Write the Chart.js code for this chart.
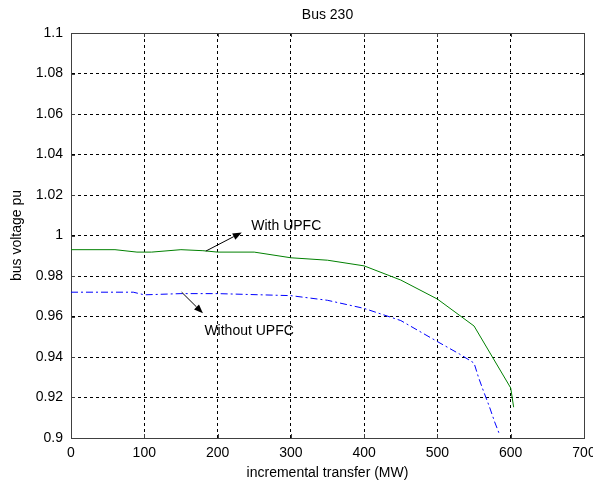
<!DOCTYPE html>
<html>
<head>
<meta charset="utf-8">
<script src="https://cdn.jsdelivr.net/npm/chart.js@4/dist/chart.umd.min.js"></script>
<style>
    body { margin: 0; background: #fff; }
    #wrap { width: 593px; height: 482px; }
</style>
</head>
<body>
<div id="wrap"><canvas id="busChart" width="593" height="482"></canvas></div>
<script>
// incremental transfer (MW) vs bus voltage (pu)
const transferWith = [0, 60, 90, 110, 150, 180, 200, 250, 300, 350, 400, 450, 500, 550, 600, 604];
const voltageWith = [0.993, 0.993, 0.9918, 0.9918, 0.993, 0.9925, 0.9918, 0.9918, 0.989, 0.9878, 0.985, 0.978, 0.9686, 0.9553, 0.9247, 0.9152];

const transferWithout = [0, 85, 100, 150, 200, 300, 350, 400, 450, 500, 530, 550, 556, 563, 571, 578, 585];
const voltageWithout = [0.972, 0.972, 0.9707, 0.9713, 0.9713, 0.9703, 0.968, 0.964, 0.958, 0.9476, 0.9415, 0.937, 0.930, 0.923, 0.9154, 0.908, 0.9015];

const xTicks = [0, 100, 200, 300, 400, 500, 600, 700];
const yTicks = [0.9, 0.92, 0.94, 0.96, 0.98, 1, 1.02, 1.04, 1.06, 1.08, 1.1];

const toPoints = (xs, ys) => xs.map((x, i) => ({ x, y: ys[i] }));

// text + arrow annotations, in data units
const annotations = [
    { text: "With UPFC", from: [184, 0.9923], to: [233, 1.0015], label: [246, 1.0047] },
    { text: "Without UPFC", from: [151, 0.972], to: [180, 0.9616], label: [182, 0.9528] },
];

const FONT = "Liberation Sans, Arial, sans-serif";

const boxPlugin = {
    id: "matlabBox",
    beforeDatasetsDraw(chart) {
        const { ctx, chartArea: a, scales } = chart;
        ctx.save();
        ctx.strokeStyle = "#404040";
        ctx.lineWidth = 1;
        ctx.strokeRect(a.left + 0.5, a.top + 0.5, a.right - a.left, a.bottom - a.top);
        ctx.beginPath();
        scales.x.ticks.forEach((t) => {
            const px = Math.round(scales.x.getPixelForValue(t.value)) + 0.5;
            ctx.moveTo(px, a.bottom);
            ctx.lineTo(px, a.bottom - 4);
            ctx.moveTo(px, a.top);
            ctx.lineTo(px, a.top + 4);
        });
        scales.y.ticks.forEach((t) => {
            const py = Math.round(scales.y.getPixelForValue(t.value)) + 0.5;
            ctx.moveTo(a.left, py);
            ctx.lineTo(a.left + 4, py);
            ctx.moveTo(a.right, py);
            ctx.lineTo(a.right - 4, py);
        });
        ctx.stroke();
        ctx.restore();
    },
};

const arrowPlugin = {
    id: "arrows",
    afterDatasetsDraw(chart) {
        const { ctx, scales } = chart;
        ctx.save();
        ctx.strokeStyle = "#000";
        ctx.fillStyle = "#000";
        ctx.lineWidth = 1;
        annotations.forEach((a) => {
            const x1 = scales.x.getPixelForValue(a.from[0]);
            const y1 = scales.y.getPixelForValue(a.from[1]);
            const x2 = scales.x.getPixelForValue(a.to[0]);
            const y2 = scales.y.getPixelForValue(a.to[1]);
            const ang = Math.atan2(y2 - y1, x2 - x1);
            const len = 9, half = 3.5;
            ctx.beginPath();
            ctx.moveTo(x1, y1);
            ctx.lineTo(x2 - len * Math.cos(ang), y2 - len * Math.sin(ang));
            ctx.stroke();
            ctx.beginPath();
            ctx.moveTo(x2, y2);
            ctx.lineTo(x2 - len * Math.cos(ang) - half * Math.sin(ang), y2 - len * Math.sin(ang) + half * Math.cos(ang));
            ctx.lineTo(x2 - len * Math.cos(ang) + half * Math.sin(ang), y2 - len * Math.sin(ang) - half * Math.cos(ang));
            ctx.closePath();
            ctx.fill();

            ctx.font = `14px ${FONT}`;
            ctx.textAlign = "left";
            ctx.textBaseline = "middle";
            ctx.fillText(a.text, scales.x.getPixelForValue(a.label[0]), scales.y.getPixelForValue(a.label[1]));
        });
        ctx.restore();
    },
};

const gridOpts = { color: "#000", lineWidth: 1, drawTicks: false };
const borderOpts = { display: true, color: "#404040", dash: [3, 3] };

new Chart(document.getElementById("busChart"), {
    type: "line",
    data: {
        datasets: [
            {
                label: "With UPFC",
                data: toPoints(transferWith, voltageWith),
                borderColor: "rgb(0,128,0)",
                borderWidth: 1,
                pointRadius: 0,
                tension: 0,
                fill: false,
            },
            {
                label: "Without UPFC",
                data: toPoints(transferWithout, voltageWithout),
                borderColor: "#0000ff",
                borderWidth: 1,
                borderDash: [7, 3, 2, 3],
                pointRadius: 0,
                tension: 0,
                fill: false,
            },
        ],
    },
    options: {
        responsive: false,
        animation: false,
        events: [],
        layout: { autoPadding: false, padding: { left: 0, right: 9, top: 0, bottom: 0 } },
        plugins: {
            legend: { display: false },
            tooltip: { enabled: false },
            title: {
                display: true,
                text: "Bus 230",
                fullSize: false,
                color: "#000",
                font: { family: FONT, size: 14, weight: "normal", lineHeight: 1 },
                padding: { top: 8, bottom: 11 },
            },
        },
        scales: {
            x: {
                type: "linear",
                min: 0,
                max: 700,
                afterBuildTicks: (s) => { s.ticks = xTicks.map((v) => ({ value: v })); },
                afterFit: (s) => { s.height = 44; s.paddingLeft = 0; s.paddingRight = 0; },
                ticks: { color: "#000", padding: 7, maxRotation: 0, font: { family: FONT, size: 14 } },
                grid: gridOpts,
                border: borderOpts,
                title: {
                    display: true,
                    text: "incremental transfer (MW)",
                    color: "#000",
                    font: { family: FONT, size: 14 },
                    padding: { top: 0, bottom: 0 },
                },
            },
            y: {
                type: "linear",
                min: 0.9,
                max: 1.1,
                afterBuildTicks: (s) => { s.ticks = yTicks.map((v) => ({ value: v })); },
                afterFit: (s) => { s.width = 71; s.paddingTop = 0; s.paddingBottom = 0; },
                ticks: {
                    color: "#000",
                    padding: 8,
                    font: { family: FONT, size: 14 },
                    callback: (v) => String(parseFloat(Number(v).toFixed(2))),
                },
                grid: gridOpts,
                border: borderOpts,
                title: {
                    display: true,
                    text: "bus voltage pu",
                    color: "#000",
                    font: { family: FONT, size: 14 },
                    padding: { top: 9, bottom: 0 },
                },
            },
        },
    },
    plugins: [boxPlugin, arrowPlugin],
});
</script>
</body>
</html>
